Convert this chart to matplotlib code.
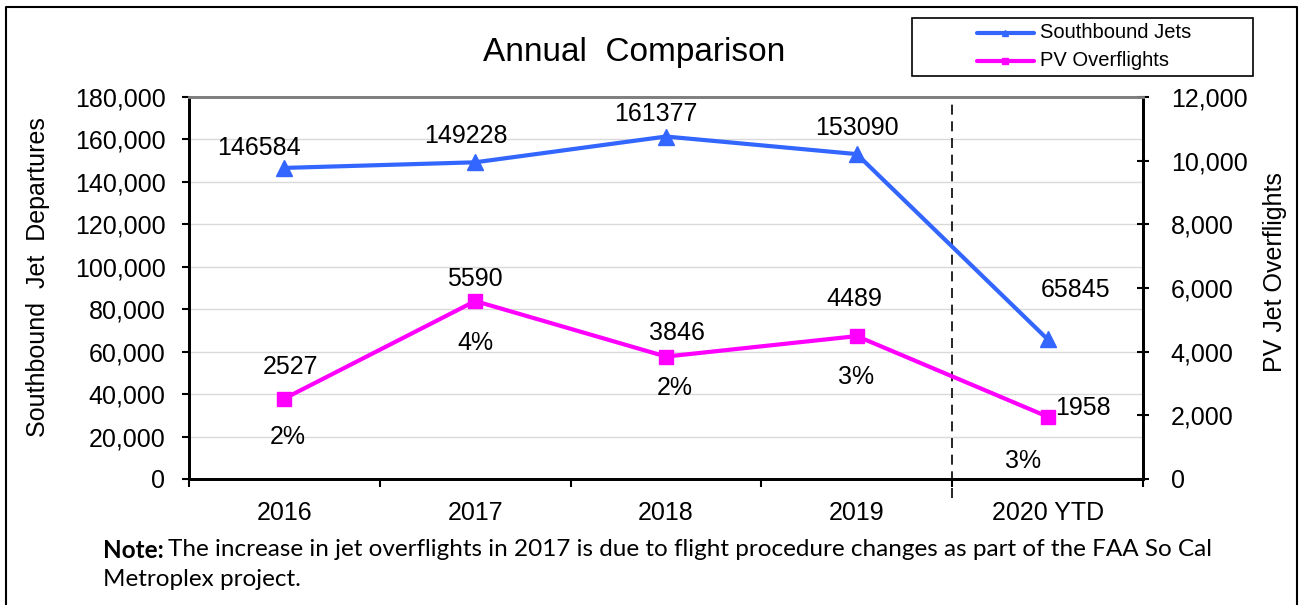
import matplotlib
matplotlib.use("Agg")
import matplotlib.pyplot as plt
from matplotlib.ticker import FuncFormatter, FixedLocator
from matplotlib.lines import Line2D
from matplotlib.patches import Rectangle

# ---- data ----
categories = ["2016", "2017", "2018", "2019", "2020 YTD"]
southbound = [146584, 149228, 161377, 153090, 65845]
pv_overflights = [2527, 5590, 3846, 4489, 1958]
pct_labels = ["2%", "4%", "2%", "3%", "3%"]

# label offsets (pixels) relative to each point
sb_offsets = [(-25, 20), (-9, 26), (-10, 23), (0, 26), (28, 49)]
pv_offsets = [(6, 32), (0, 22), (11, 24), (-2, 37), (35, 9)]
pct_offsets = [(3, -38), (0, -42), (9, -31), (-1, -41), (-25, -44)]

W, H = 1301, 605
DPI = 100
plt.rcParams['font.family'] = ['Liberation Sans', 'DejaVu Sans']

fig = plt.figure(figsize=(W / DPI, H / DPI), dpi=DPI)
fig.patch.set_facecolor("white")

def fx(px):
    return px / W

def fy(py):
    return 1 - py / H

left, right, top, bottom = 189, 1143, 97, 479
ax = fig.add_axes([fx(left), fy(bottom), fx(right - left), (bottom - top) / H])
ax2 = ax.twinx()

x = list(range(len(categories)))
BLUE = "#3366FF"
MAG = "#FF00FF"

ax.plot(x, southbound, color=BLUE, lw=3, marker="^", ms=11.5, zorder=3)
ax2.plot(x, pv_overflights, color=MAG, lw=3, marker="s", ms=9.5, zorder=3)

ax.set_xlim(-0.5, len(categories) - 0.5)
ax.set_ylim(0, 180000)
ax2.set_ylim(0, 12000)

ax.set_yticks(range(0, 180001, 20000))
ax2.set_yticks(range(0, 12001, 2000))
fmt = FuncFormatter(lambda v, p: f"{int(v):,}")
ax.yaxis.set_major_formatter(fmt)
ax2.yaxis.set_major_formatter(fmt)

ax.set_xticks(x)
ax.set_xticklabels(categories)
ax.xaxis.set_minor_locator(FixedLocator([i - 0.5 for i in range(len(categories) + 1)]))
ax.tick_params(axis="x", which="major", length=0, pad=16, labelsize=18)
ax.tick_params(axis="x", which="minor", length=6, width=1.5, direction="out")
ax.tick_params(axis="y", which="major", length=5, width=1.5, direction="out", pad=12, labelsize=18)
ax2.tick_params(axis="y", which="major", length=8, width=1.5, direction="inout", pad=16, labelsize=18)

ax.grid(axis="y", color="#D9D9D9", lw=1)
ax.set_axisbelow(True)

for a in (ax, ax2):
    a.spines["left"].set_linewidth(2)
    a.spines["right"].set_linewidth(2)
    a.spines["bottom"].set_linewidth(2)
    a.spines["top"].set_color("#808080")
    a.spines["top"].set_linewidth(2)

ax.axvline(3.5, ymin=-0.05, ymax=1, color="black", lw=1.2, ls=(0, (6, 4)), clip_on=False, zorder=2)

for i, v in enumerate(southbound):
    ax.annotate(str(v), (x[i], v), xytext=(sb_offsets[i][0] * 0.72, sb_offsets[i][1] * 0.72),
                textcoords="offset points", ha="center", va="center", fontsize=18)
for i, v in enumerate(pv_overflights):
    ax2.annotate(str(v), (x[i], v), xytext=(pv_offsets[i][0] * 0.72, pv_offsets[i][1] * 0.72),
                 textcoords="offset points", ha="center", va="center", fontsize=18)
    ax2.annotate(pct_labels[i], (x[i], v), xytext=(pct_offsets[i][0] * 0.72, pct_offsets[i][1] * 0.72),
                 textcoords="offset points", ha="center", va="center", fontsize=18)

# axis labels
fig.text(fx(38), fy(277), "Southbound  Jet  Departures", rotation=90, ha="center", va="center", fontsize=18)
fig.text(fx(1275), fy(272), "PV Jet Overflights", rotation=90, ha="center", va="center", fontsize=18)

# title
fig.text(fx(634), fy(53), "Annual  Comparison", ha="center", va="center", fontsize=24)

# legend
fig.add_artist(Rectangle((fx(912), fy(76)), fx(1253 - 912), (76 - 18) / H, transform=fig.transFigure,
                         fill=False, edgecolor="black", lw=1.2))
for yy, col, mk, lab in [(33, BLUE, "^", "Southbound Jets"), (61, MAG, "s", "PV Overflights")]:
    fig.add_artist(Line2D([fx(977), fx(1034)], [fy(yy), fy(yy)], transform=fig.transFigure,
                          color=col, lw=3, solid_capstyle="round"))
    fig.add_artist(Line2D([fx(1005)], [fy(yy)], transform=fig.transFigure,
                          color=col, marker=mk, ms=5, lw=0))
    fig.text(fx(1040), fy(yy), lab, ha="left", va="center", fontsize=14.5)

# figure border (left, top, right)
fig.add_artist(Line2D([fx(6), fx(6), fx(1297), fx(1297)], [0, fy(7), fy(7), 0],
                      transform=fig.transFigure, color="black", lw=1.5))

# note
renderer = fig.canvas.get_renderer()
t1 = fig.text(fx(103), fy(550), "Note:", ha="left", va="center", fontsize=17.5,
              fontweight="bold", family=["Lato", "DejaVu Sans"])
bb = t1.get_window_extent(renderer)
fig.text(bb.x1 / W + fx(4), fy(550),
         "The increase in jet overflights in 2017 is due to flight procedure changes as part of the FAA So Cal",
         ha="left", va="center", fontsize=17.5, family=["Lato", "DejaVu Sans"])
fig.text(fx(103), fy(580), "Metroplex project.", ha="left", va="center", fontsize=17.5,
         family=["Lato", "DejaVu Sans"])

fig.savefig("out.png", dpi=DPI, facecolor="white")
